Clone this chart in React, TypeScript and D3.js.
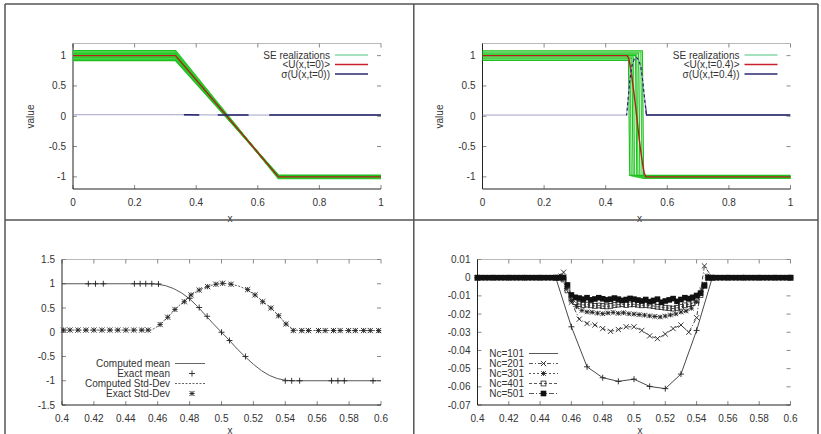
import React from "react";
import * as d3 from "d3";

const FONT = "'Liberation Sans', Arial, Helvetica, sans-serif";

// ---------------- top panels (t = 0 and t = 0.4) ----------------
const topXTicks = [0, 0.2, 0.4, 0.6, 0.8, 1];
const topXLabels = ["0", "0.2", "0.4", "0.6", "0.8", "1"];
const topYTicks = [1, 0.5, 0, -0.5, -1];
const topYLabels = ["1", "0.5", "0", "-0.5", "-1"];

// stochastic realizations: left state / right state
const seLeft = [1.08, 1.06, 1.04, 1.02, 1.0, 0.98, 0.96, 0.94, 0.92];
const seRight = [-1.025, -1.02, -1.012, -1.006, -1.0, -0.995, -0.99, -0.982, -0.975];
// t = 0 : ramp between x = 1/3 and x = 2/3
const se0RampStart = 0.333;
const se0RampEnd = 0.667;
const mean0X = [0, 0.333, 0.667, 1];
const mean0Y = [1, 1, -1, -1];
const sigma0X = [0, 0.333, 0.5, 0.667, 1];
const sigma0Y = [0.025, 0.025, 0.02, 0.02, 0.02];
const sigma0DarkFrom = [0.36, 0.47, 0.637];
const sigma0DarkTo = [0.41, 0.57, 1.0];

// t = 0.4 : shock positions of each realization
const se4ShockFrom = [0.519, 0.514, 0.507, 0.501, 0.497, 0.49, 0.485, 0.479, 0.474];
const se4ShockTo = [0.523, 0.518, 0.511, 0.505, 0.501, 0.494, 0.489, 0.483, 0.478];
const mean4X = [0, 0.47, 0.475, 0.48, 0.485, 0.49, 0.495, 0.5, 0.505, 0.51, 0.515, 0.52, 0.525, 0.53, 1];
const mean4Y = [1, 1, 0.95, 0.82, 0.65, 0.45, 0.25, 0.03, -0.2, -0.42, -0.62, -0.8, -0.93, -1, -1];
const sigma4X = [0, 0.468, 0.473, 0.479, 0.486, 0.493, 0.5, 0.507, 0.514, 0.521, 0.527, 0.532, 1];
const sigma4Y = [0.02, 0.02, 0.3, 0.62, 0.85, 0.95, 0.97, 0.93, 0.82, 0.55, 0.25, 0.02, 0.02];
const sigma4HumpFrom = [0.466];
const sigma4HumpTo = [0.532];
const sigma4DarkFrom = [0.53];
const sigma4DarkTo = [1.0];

// ---------------- bottom panels ----------------
const botXTicks = [0.4, 0.42, 0.44, 0.46, 0.48, 0.5, 0.52, 0.54, 0.56, 0.58, 0.6];
const botXLabels = ["0.4", "0.42", "0.44", "0.46", "0.48", "0.5", "0.52", "0.54", "0.56", "0.58", "0.6"];
const p3YTicks = [1.5, 1, 0.5, 0, -0.5, -1, -1.5];
const p3YLabels = ["1.5", "1", "0.5", "0", "-0.5", "-1", "-1.5"];

const compMeanX = [0.4, 0.455, 0.46, 0.465, 0.47, 0.475, 0.48, 0.485, 0.49, 0.495, 0.5, 0.505, 0.51, 0.515, 0.52, 0.525, 0.53, 0.535, 0.54, 0.545, 0.6];
const compMeanY = [1, 1, 0.99, 0.96, 0.9, 0.81, 0.69, 0.53, 0.35, 0.17, 0.0, -0.17, -0.35, -0.51, -0.66, -0.79, -0.89, -0.955, -0.99, -1, -1];
const exactMeanX = [0.4165, 0.421, 0.4259, 0.4454, 0.449, 0.4525, 0.4563, 0.4605, 0.48, 0.486, 0.491, 0.5, 0.505, 0.515, 0.54, 0.544, 0.549, 0.569, 0.573, 0.577, 0.595];
const exactMeanY = [1, 1, 1, 1, 1, 1, 1, 0.995, 0.7, 0.51, 0.33, 0.0, -0.17, -0.5, -1, -1, -1, -1, -1, -1, -1];
const compStdX = [0.4, 0.456, 0.459, 0.462, 0.466, 0.471, 0.476, 0.481, 0.486, 0.491, 0.496, 0.501, 0.506, 0.511, 0.516, 0.521, 0.526, 0.531, 0.536, 0.5405, 0.5445, 0.548, 0.6];
const compStdY = [0.045, 0.045, 0.1, 0.17, 0.31, 0.47, 0.63, 0.77, 0.87, 0.94, 0.99, 1.01, 0.99, 0.95, 0.88, 0.77, 0.63, 0.5, 0.34, 0.17, 0.07, 0.035, 0.035];
const exactStdX = [0.401, 0.405, 0.41, 0.415, 0.42, 0.425, 0.43, 0.435, 0.44, 0.445, 0.45, 0.454,
  0.4615, 0.4663, 0.4708, 0.4767, 0.4809, 0.486, 0.4913, 0.4965, 0.5007, 0.506, 0.5164, 0.521, 0.5258, 0.531, 0.5358, 0.5404,
  0.545, 0.5503, 0.5545, 0.5608, 0.565, 0.5702, 0.5744, 0.5797, 0.5839, 0.5891, 0.5933, 0.5985];
const exactStdY = [0.045, 0.045, 0.045, 0.045, 0.045, 0.045, 0.045, 0.045, 0.045, 0.045, 0.045, 0.045,
  0.16, 0.31, 0.47, 0.63, 0.77, 0.87, 0.94, 0.99, 1.01, 0.99, 0.88, 0.77, 0.63, 0.5, 0.34, 0.17,
  0.035, 0.035, 0.035, 0.035, 0.035, 0.035, 0.035, 0.035, 0.035, 0.035, 0.035, 0.035];

const p4YTicks = [0.01, 0, -0.01, -0.02, -0.03, -0.04, -0.05, -0.06, -0.07];
const p4YLabels = ["0.01", "0", "-0.01", "-0.02", "-0.03", "-0.04", "-0.05", "-0.06", "-0.07"];

const nc101X = [0.4, 0.41, 0.42, 0.43, 0.44, 0.45, 0.46, 0.47, 0.48, 0.49, 0.5, 0.51, 0.52, 0.53, 0.54, 0.55, 0.56, 0.57, 0.58, 0.59, 0.6];
const nc101Y = [0, 0, 0, 0, 0, 0, -0.027, -0.049, -0.055, -0.057, -0.0558, -0.0598, -0.061, -0.053, -0.029, 0, 0, 0, 0, 0, 0];
const nc201X = [0.4, 0.45, 0.455, 0.46, 0.465, 0.47, 0.475, 0.48, 0.485, 0.49, 0.495, 0.5, 0.505, 0.51, 0.515, 0.52, 0.525, 0.53, 0.535, 0.54, 0.545, 0.55, 0.6];
const nc201Y = [0, 0, 0.003, -0.0135, -0.0228, -0.0252, -0.026, -0.028, -0.0295, -0.0285, -0.027, -0.027, -0.029, -0.032, -0.0335, -0.031, -0.028, -0.026, -0.03, -0.022, 0.0065, 0, 0];
const nc301X = [0.4, 0.45, 0.4533, 0.4567, 0.46, 0.4633, 0.4667, 0.47, 0.4733, 0.4767, 0.48, 0.4833, 0.4867, 0.49, 0.4933, 0.4967, 0.5, 0.5033, 0.5067, 0.51, 0.5133, 0.5167, 0.52, 0.5233, 0.5267, 0.53, 0.5333, 0.5367, 0.54, 0.5433, 0.5467, 0.55, 0.6];
const nc301Y = [0, 0, 0.001, -0.006, -0.0125, -0.016, -0.018, -0.0188, -0.019, -0.0195, -0.0198, -0.0194, -0.0191, -0.0196, -0.0193, -0.0198, -0.02, -0.0203, -0.0206, -0.021, -0.0213, -0.0216, -0.0211, -0.0205, -0.0199, -0.0189, -0.0183, -0.0168, -0.0132, -0.0068, 0.001, 0, 0];
const nc401X = [0.4, 0.45, 0.4525, 0.455, 0.4575, 0.46, 0.4625, 0.465, 0.4675, 0.47, 0.4725, 0.475, 0.4775, 0.48, 0.4825, 0.485, 0.4875, 0.49, 0.4925, 0.495, 0.4975, 0.5, 0.5025, 0.505, 0.5075, 0.51, 0.5125, 0.515, 0.5175, 0.52, 0.5225, 0.525, 0.5275, 0.53, 0.5325, 0.535, 0.5375, 0.54, 0.5425, 0.545, 0.5475, 0.55, 0.6];
const nc401Y = [0, 0, 0, -0.001, -0.007, -0.0115, -0.0135, -0.0145, -0.015, -0.0148, -0.0152, -0.0155, -0.0153, -0.0156, -0.0158, -0.0155, -0.015, -0.0148, -0.0146, -0.015, -0.0147, -0.0146, -0.0149, -0.0152, -0.015, -0.0153, -0.0156, -0.016, -0.0162, -0.0165, -0.0168, -0.017, -0.0166, -0.016, -0.0152, -0.0146, -0.014, -0.0125, -0.0095, -0.004, 0, 0, 0];
const nc501X = [0.4, 0.4025, 0.405, 0.4075, 0.41, 0.4125, 0.415, 0.4175, 0.42, 0.4225, 0.425, 0.4275, 0.43, 0.4325, 0.435, 0.4375, 0.44, 0.4425, 0.445, 0.4475, 0.45, 0.4525, 0.455,
  0.4575, 0.46, 0.4625,
  0.465, 0.4675, 0.47, 0.4725, 0.475, 0.4775, 0.48, 0.4825, 0.485, 0.4875, 0.49, 0.4925, 0.495, 0.4975, 0.5, 0.5025, 0.505, 0.5075, 0.51, 0.5125, 0.515, 0.5175, 0.52, 0.5225, 0.525, 0.5275, 0.53, 0.5325, 0.535,
  0.5375, 0.54, 0.5425, 0.545, 0.5475,
  0.55, 0.5525, 0.555, 0.5575, 0.56, 0.5625, 0.565, 0.5675, 0.57, 0.5725, 0.575, 0.5775, 0.58, 0.5825, 0.585, 0.5875, 0.59, 0.5925, 0.595, 0.5975, 0.6];
const nc501Y = [0, 0, 0, 0, 0, 0, 0, 0, 0, 0, 0, 0, 0, 0, 0, 0, 0, 0, 0, 0, 0, 0, 0,
  -0.004, -0.0095, -0.0108,
  -0.0112, -0.0118, -0.011, -0.0122, -0.0117, -0.011, -0.0116, -0.0122, -0.0118, -0.0112, -0.0118, -0.0125, -0.012, -0.0114, -0.0118, -0.0123, -0.0128, -0.012, -0.0132, -0.0125, -0.0118, -0.0135, -0.0128, -0.0122, -0.0115, -0.013, -0.012, -0.011, -0.0115,
  -0.0108, -0.0098, -0.0085, -0.0045, 0,
  0, 0, 0, 0, 0, 0, 0, 0, 0, 0, 0, 0, 0, 0, 0, 0, 0, 0, 0, 0, 0];

type Pt = [number, number];
const zip = (xs: number[], ys: number[]): Pt[] => xs.map((x, i) => [x, ys[i]]);

function markerPath(kind: string, x: number, y: number, s: number): string {
  const plus = `M${x - s},${y}H${x + s}M${x},${y - s}V${y + s}`;
  const cross = `M${x - s},${y - s}L${x + s},${y + s}M${x - s},${y + s}L${x + s},${y - s}`;
  if (kind === "plus") return plus;
  if (kind === "cross") return cross;
  if (kind === "star") return plus + cross;
  return "";
}

function Marker({ kind, x, y, s }: { kind: string; x: number; y: number; s: number }) {
  if (kind === "square") return <rect x={x - s} y={y - s} width={2 * s} height={2 * s} fill="none" stroke="#222" strokeWidth={0.8} />;
  if (kind === "fsquare") return <rect x={x - s} y={y - s} width={2 * s} height={2 * s} fill="#111" />;
  return <path d={markerPath(kind, x, y, s)} stroke="#222" strokeWidth={0.9} fill="none" />;
}

function Axes({ xs, ys, xTicks, xLabels, yTicks, yLabels }: any) {
  const [L, R] = xs.range();
  const [B, T] = ys.range();
  return (
    <g fontFamily={FONT} fontSize={10} fill="#333">
      <line x1={L} x2={R} y1={T} y2={T} stroke="#b8b8b8" strokeWidth={1} />
      {xTicks.map((t: number, i: number) => (
        <g key={"x" + i}>
          <line x1={xs(t)} x2={xs(t)} y1={B} y2={B - 4} stroke="#888" />
          <line x1={xs(t)} x2={xs(t)} y1={T} y2={T + 4} stroke="#888" />
          <text x={xs(t)} y={B + 17} textAnchor="middle">{xLabels[i]}</text>
        </g>
      ))}
      {yTicks.map((t: number, i: number) => (
        <g key={"y" + i}>
          <line x1={L} x2={L + 4} y1={ys(t)} y2={ys(t)} stroke="#888" />
          <line x1={R} x2={R - 4} y1={ys(t)} y2={ys(t)} stroke="#888" />
          <text x={L - 7} y={ys(t) + 3.5} textAnchor="end">{yLabels[i]}</text>
        </g>
      ))}
      <line x1={L} x2={L} y1={B} y2={T} stroke="#222" />
      <line x1={L} x2={R} y1={B} y2={B} stroke="#222" />
    </g>
  );
}

function TopPanel({ id, left, right, realizations, lineW, mean, sigma, darkFrom, darkTo, humpFrom, humpTo, meanLabel, sigmaLabel }: any) {
  const xs = d3.scaleLinear().domain([0, 1]).range([left, right]);
  const ys = d3.scaleLinear().domain([-1.2, 1.2]).range([189, 43.5]);
  const line = d3.line<Pt>().x((d) => xs(d[0])).y((d) => ys(d[1]));
  const lx = left - 73;
  return (
    <g>
      <defs>
        {darkFrom.map((f: number, i: number) => (
          <clipPath id={`${id}-dark${i}`} key={i}>
            <rect x={xs(f)} y={30} width={xs(darkTo[i]) - xs(f)} height={170} />
          </clipPath>
        ))}
        {humpFrom.map((f: number, i: number) => (
          <clipPath id={`${id}-hump${i}`} key={i}>
            <rect x={xs(f)} y={30} width={xs(humpTo[i]) - xs(f)} height={170} />
          </clipPath>
        ))}
      </defs>
      <Axes xs={xs} ys={ys} xTicks={topXTicks} xLabels={topXLabels} yTicks={topYTicks} yLabels={topYLabels} />
      {realizations.map((r: Pt[], i: number) => (
        <path key={i} d={line(r) || ""} fill="none" stroke={i % 2 ? "#36d436" : "#1fbf1f"} strokeWidth={lineW} />
      ))}
      <path d={line(mean) || ""} fill="none" stroke="#b3201c" strokeWidth={1.4} />
      <path d={line(sigma) || ""} fill="none" stroke="#9a9ac4" strokeWidth={0.9} />
      {darkFrom.map((_: number, i: number) => (
        <path key={i} d={line(sigma) || ""} fill="none" stroke="#1c1c66" strokeWidth={1.5} clipPath={`url(#${id}-dark${i})`} />
      ))}
      {humpFrom.map((_: number, i: number) => (
        <path key={i} d={line(sigma) || ""} fill="none" stroke="#1c1c66" strokeWidth={1.1} strokeDasharray="3,2.5" clipPath={`url(#${id}-hump${i})`} />
      ))}
      <g fontFamily={FONT} fontSize={10} fill="#333" textAnchor="end">
        <text x={330 + lx} y={58.5}>SE realizations</text>
        <text x={330 + lx} y={68}>{meanLabel}</text>
        <text x={330 + lx} y={77.5}>{sigmaLabel}</text>
      </g>
      <line x1={335 + lx} x2={368 + lx} y1={55} y2={55} stroke="#86d8a8" strokeWidth={1.5} />
      <line x1={335 + lx} x2={368 + lx} y1={64.5} y2={64.5} stroke="#c8202a" strokeWidth={1.5} />
      <line x1={335 + lx} x2={368 + lx} y1={74} y2={74} stroke="#2a2a70" strokeWidth={1.5} />
      <text x={left - 43} y={116.5} fontFamily={FONT} fontSize={10} fill="#333" textAnchor="middle" transform={`rotate(-90 ${left - 43} 116.5)`} dy="0.35em">value</text>
      <text x={(left + right) / 2 + 3} y={222} fontFamily={FONT} fontSize={10} fill="#333" textAnchor="middle">x</text>
    </g>
  );
}

function Panel3() {
  const xs = d3.scaleLinear().domain([0.4, 0.6]).range([62, 381]);
  const ys = d3.scaleLinear().domain([-1.5, 1.5]).range([405, 259.5]);
  const line = d3.line<Pt>().x((d) => xs(d[0])).y((d) => ys(d[1]));
  const rows = [363.5, 373.5, 383.5, 393.5];
  return (
    <g>
      <Axes xs={xs} ys={ys} xTicks={botXTicks} xLabels={botXLabels} yTicks={p3YTicks} yLabels={p3YLabels} />
      <path d={line(zip(compMeanX, compMeanY)) || ""} fill="none" stroke="#444" strokeWidth={0.9} />
      <path d={line(zip(compStdX, compStdY)) || ""} fill="none" stroke="#444" strokeWidth={0.9} strokeDasharray="2,1.5" />
      {zip(exactMeanX, exactMeanY).map((d, i) => <Marker key={"m" + i} kind="plus" x={xs(d[0])} y={ys(d[1])} s={3} />)}
      {zip(exactStdX, exactStdY).map((d, i) => <Marker key={"s" + i} kind="star" x={xs(d[0])} y={ys(d[1])} s={2.6} />)}
      <g fontFamily={FONT} fontSize={10} fill="#333" textAnchor="end">
        <text x={170} y={rows[0] + 3.4}>Computed mean</text>
        <text x={170} y={rows[1] + 3.4}>Exact mean</text>
        <text x={170} y={rows[2] + 3.4}>Computed Std-Dev</text>
        <text x={170} y={rows[3] + 3.4}>Exact Std-Dev</text>
      </g>
      <line x1={175} x2={205} y1={rows[0]} y2={rows[0]} stroke="#555" strokeWidth={0.9} />
      <Marker kind="plus" x={192} y={rows[1]} s={3} />
      <line x1={175} x2={205} y1={rows[2]} y2={rows[2]} stroke="#555" strokeWidth={0.9} strokeDasharray="2,1.5" />
      <Marker kind="star" x={192} y={rows[3]} s={2.6} />
      <text x={230} y={433.5} fontFamily={FONT} fontSize={10} fill="#333" textAnchor="middle">x</text>
    </g>
  );
}

function Panel4() {
  const xs = d3.scaleLinear().domain([0.4, 0.6]).range([477.5, 790.5]);
  const ys = d3.scaleLinear().domain([-0.07, 0.01]).range([405, 259.5]);
  const line = d3.line<Pt>().x((d) => xs(d[0])).y((d) => ys(d[1]));
  const series = [
    { label: "Nc=101", x: nc101X, y: nc101Y, kind: "plus", s: 3, dash: "" },
    { label: "Nc=201", x: nc201X, y: nc201Y, kind: "cross", s: 2.6, dash: "4,2,1,2" },
    { label: "Nc=301", x: nc301X, y: nc301Y, kind: "star", s: 2.3, dash: "2,2" },
    { label: "Nc=401", x: nc401X, y: nc401Y, kind: "square", s: 2.4, dash: "3,2" },
    { label: "Nc=501", x: nc501X, y: nc501Y, kind: "fsquare", s: 2.8, dash: "5,2,1,2" },
  ];
  const rows = [353.5, 363.5, 373.5, 383.5, 393.5];
  return (
    <g>
      <Axes xs={xs} ys={ys} xTicks={botXTicks} xLabels={botXLabels} yTicks={p4YTicks} yLabels={p4YLabels} />
      {series.map((s, k) => (
        <g key={k}>
          <path d={line(zip(s.x, s.y)) || ""} fill="none" stroke="#333" strokeWidth={0.9} strokeDasharray={s.dash || undefined} />
          {zip(s.x, s.y).map((d, i) => <Marker key={i} kind={s.kind} x={xs(d[0])} y={ys(d[1])} s={s.s} />)}
        </g>
      ))}
      {series.map((s, k) => (
        <g key={"l" + k}>
          <text x={524} y={rows[k] + 3.5} fontFamily={FONT} fontSize={10} fill="#333" textAnchor="end">{s.label}</text>
          <line x1={529} x2={558} y1={rows[k]} y2={rows[k]} stroke="#444" strokeWidth={0.9} strokeDasharray={s.dash || undefined} />
          {k > 0 ? <Marker kind={s.kind} x={543.5} y={rows[k]} s={s.s} /> : null}
        </g>
      ))}
      <text x={640} y={433.5} fontFamily={FONT} fontSize={10} fill="#333" textAnchor="middle">x</text>
    </g>
  );
}

export default function App() {
  const real0: Pt[][] = seLeft.map((L, i) => [[0, L], [se0RampStart, L], [se0RampEnd, seRight[i]], [1, seRight[i]]]);
  const real4: Pt[][] = seLeft.map((L, i) => [[0, L], [se4ShockFrom[i], L], [se4ShockTo[i], seRight[i]], [1, seRight[i]]]);
  return (
    <svg width={821} height={434} style={{ position: "absolute", left: 0, top: 0, background: "#fff" }}>
      <rect x={0} y={0} width={821} height={434} fill="#fff" />
      <TopPanel id="p1" left={73} right={381} realizations={real0} lineW={1.6} mean={zip(mean0X, mean0Y)} sigma={zip(sigma0X, sigma0Y)}
        darkFrom={sigma0DarkFrom} darkTo={sigma0DarkTo} humpFrom={[]} humpTo={[]}
        meanLabel={"<U(x,t=0)>"} sigmaLabel={"σ(U(x,t=0))"} />
      <TopPanel id="p2" left={482.5} right={790.5} realizations={real4} lineW={1.2} mean={zip(mean4X, mean4Y)} sigma={zip(sigma4X, sigma4Y)}
        darkFrom={sigma4DarkFrom} darkTo={sigma4DarkTo} humpFrom={sigma4HumpFrom} humpTo={sigma4HumpTo}
        meanLabel={"<U(x,t=0.4)>"} sigmaLabel={"σ(U(x,t=0.4))"} />
      <Panel3 />
      <Panel4 />
      <g stroke="#555" strokeWidth={1.5} fill="none">
        <line x1={5} x2={5} y1={4} y2={434} />
        <line x1={5} x2={818} y1={4} y2={4} />
        <line x1={818} x2={818} y1={4} y2={434} />
        <line x1={413.8} x2={413.8} y1={4} y2={434} />
        <line x1={5} x2={818} y1={220} y2={220} />
      </g>
    </svg>
  );
}
